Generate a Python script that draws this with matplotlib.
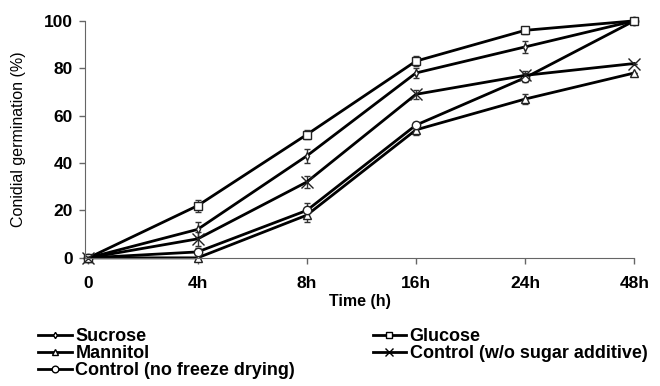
import numpy as np
import matplotlib.pyplot as plt

plt.rcParams['font.family'] = ['Liberation Sans', 'DejaVu Sans']

# Time points (categorical)
time_labels = ['0', '4h', '8h', '16h', '24h', '48h']

# Germination (%) for each treatment
sucrose = [0, 12, 43, 78, 89, 100]
glucose = [0, 22, 52, 83, 96, 100]
mannitol = [0, 0, 18, 54, 67, 78]
control_no_sugar = [0, 8, 32, 69, 77, 82]
control_no_fd = [0, 2.5, 20, 56, 76, 100]

# Error bars (SE)
sucrose_err = [0, 3, 3, 2, 2.5, 0]
glucose_err = [0, 2.5, 2, 2, 1.5, 0]
mannitol_err = [0, 1, 3, 2, 2, 0]
control_no_sugar_err = [0, 3, 2.5, 2, 2, 0]
control_no_fd_err = [0, 1.5, 3, 1.5, 2, 0]

x = np.arange(len(time_labels))

fig = plt.figure(figsize=(6.6, 3.86), dpi=100)
ax = fig.add_axes([0.129, 0.332, 0.832, 0.614])

series = [
    ('Sucrose', sucrose, sucrose_err, 'd', 4),
    ('Mannitol', mannitol, mannitol_err, '^', 6),
    ('Control (no freeze drying)', control_no_fd, control_no_fd_err, 'o', 6),
    ('Glucose', glucose, glucose_err, 's', 6),
    ('Control (w/o sugar additive)', control_no_sugar, control_no_sugar_err, 'x', 8),
]

for name, vals, err, mk, ms in series:
    ax.errorbar(x, vals, yerr=err, color='black', lw=2, marker=mk, ms=ms,
                mfc='white', mec='#222222', mew=1, ecolor='#333333',
                elinewidth=1, capsize=2.5, capthick=1, clip_on=False,
                label=name)

ax.set_xlim(-0.03, 5)
ax.set_ylim(0, 100)
ax.set_xticks(x)
ax.set_xticklabels(time_labels)
ax.set_yticks(range(0, 101, 20))
ax.tick_params(labelsize=12.5, length=4, width=1, direction='out', color='#666666')
ax.tick_params(axis='x', pad=9)
ax.tick_params(axis='y', pad=5)
for lbl in ax.get_xticklabels() + ax.get_yticklabels():
    lbl.set_fontweight('bold')
ax.spines['top'].set_visible(False)
ax.spines['right'].set_visible(False)
ax.spines['left'].set_color('#666666')
ax.spines['bottom'].set_color('#666666')
ax.set_xlabel('Time (h)', fontsize=11.5, fontweight='bold')
ax.xaxis.set_label_coords(0.5, -0.152)
ax.set_ylabel('Conidial germination (%)', fontsize=11.5)
ax.yaxis.set_label_coords(-0.108, 0.5)

leg_handles = [plt.Line2D([], [], color='black', lw=2, marker=mk, ms=ms * 0.8,
                          mfc='white', mec='black', mew=1)
               for _, _, _, mk, ms in series]
fig.legend(leg_handles, [s[0] for s in series], ncol=2, loc='upper left',
           bbox_to_anchor=(0.058, 0.15), frameon=False,
           prop={'size': 13, 'weight': 'bold'},
           handlelength=1.85, handletextpad=0.2, labelspacing=0.0,
           columnspacing=4.3, borderaxespad=0, borderpad=0)

fig.savefig('out.png', dpi=100)
